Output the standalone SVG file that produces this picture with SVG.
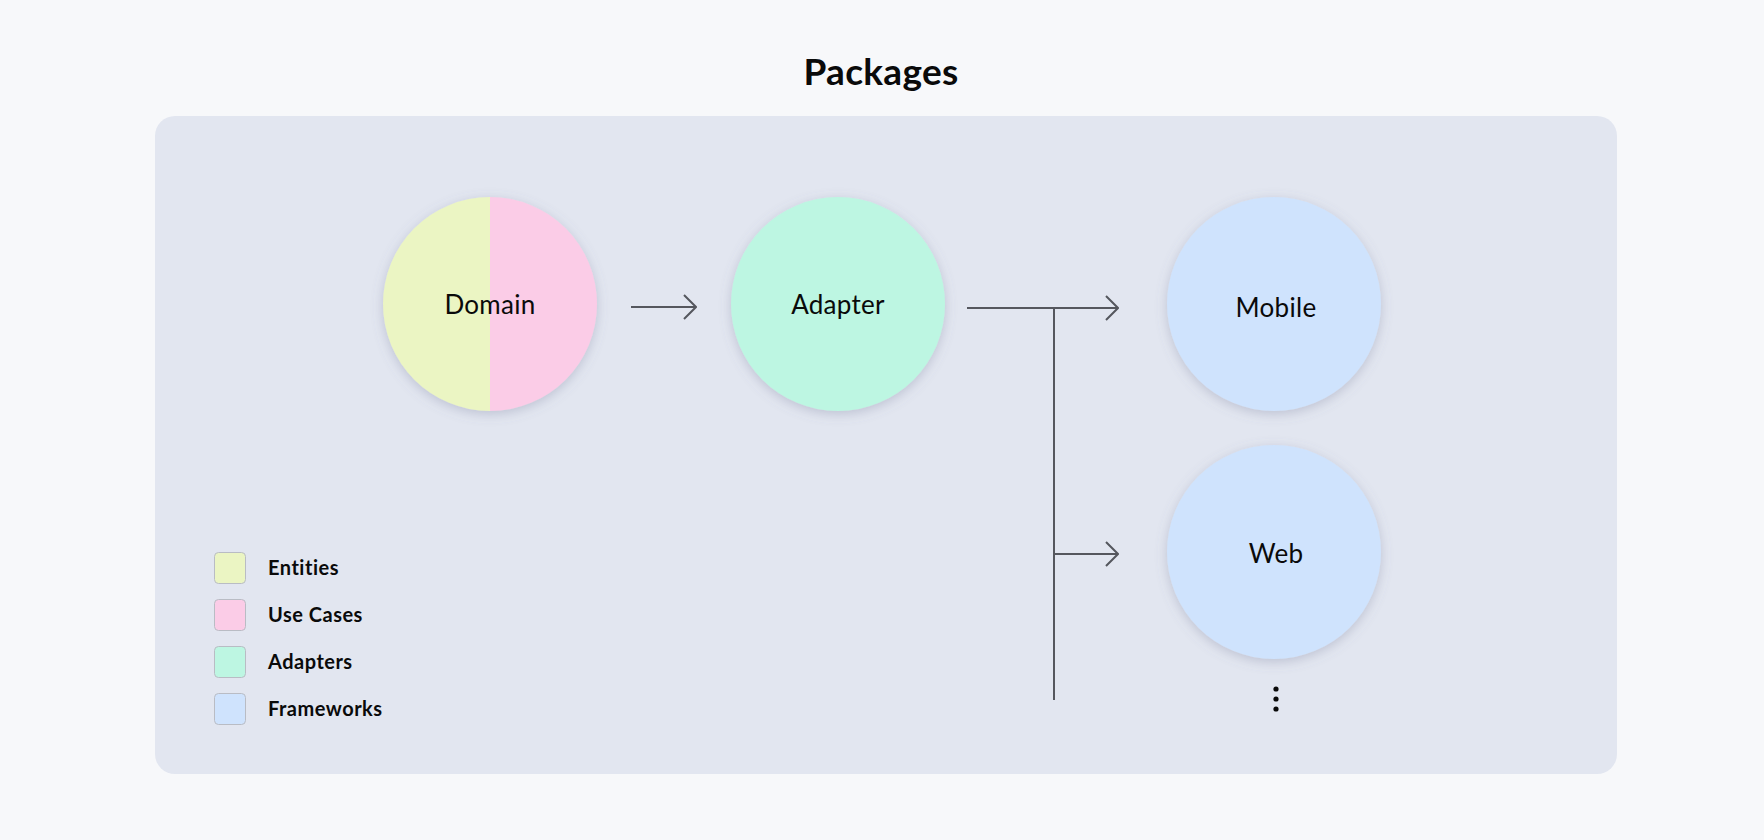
<svg xmlns="http://www.w3.org/2000/svg" width="1764" height="840" viewBox="0 0 1764 840">
<defs>
<style>
.title{font-family:Lato,"Noto Sans",sans-serif;font-size:37px;font-weight:700;fill:#0a0a0a;letter-spacing:0.3px}
.node{font-family:Lato,"Noto Sans",sans-serif;font-size:26px;fill:#0a0a0a;letter-spacing:0.3px}
.leg{font-family:Lato,"Noto Sans",sans-serif;font-size:20px;font-weight:700;fill:#0a0a0a;letter-spacing:0.5px}
.sw{stroke:#b9bcc4;stroke-width:1}
.conn{stroke:#55575e;stroke-width:2;fill:none}
</style>
<filter id="sh" x="-30%" y="-30%" width="160%" height="160%">
<feDropShadow dx="0" dy="3" stdDeviation="6" flood-color="#6a7090" flood-opacity="0.3"/>
</filter>
<marker id="arr" viewBox="0 0 14 28" refX="13" refY="14" markerWidth="14" markerHeight="28" markerUnits="userSpaceOnUse" orient="auto">
<path d="M1,2 L13,14 L1,26" fill="none" stroke="#55575e" stroke-width="2"/>
</marker>
</defs>
<rect width="1764" height="840" fill="#f7f8fa"/>
<text class="title" x="881" y="85" text-anchor="middle">Packages</text>
<rect x="155" y="116" width="1462" height="658" rx="20" fill="#e2e6f0"/>
<g id="domain">
<g filter="url(#sh)">
<path d="M490,197 A107,107 0 0 0 490,411 Z" fill="#ebf5c3"/>
<path d="M490,197 A107,107 0 0 1 490,411 Z" fill="#fbcce7"/>
</g>
<text class="node" x="490" y="314" text-anchor="middle">Domain</text>
</g>
<g id="adapter">
<circle cx="838" cy="304" r="107" fill="#bdf6e2" filter="url(#sh)"/>
<text class="node" x="838" y="314" text-anchor="middle">Adapter</text>
</g>
<g id="mobile">
<circle cx="1274" cy="304" r="107" fill="#cfe3fd" filter="url(#sh)"/>
<text class="node" x="1276" y="317" text-anchor="middle">Mobile</text>
</g>
<g id="web">
<circle cx="1274" cy="552" r="107" fill="#cfe3fd" filter="url(#sh)"/>
<text class="node" x="1276" y="563" text-anchor="middle">Web</text>
</g>
<g id="more">
<circle cx="1276" cy="689" r="2.6" fill="#0a0a0a"/>
<circle cx="1276" cy="699" r="2.6" fill="#0a0a0a"/>
<circle cx="1276" cy="709" r="2.6" fill="#0a0a0a"/>
</g>
<g id="connectors">
<line class="conn" x1="631" y1="307" x2="696" y2="307" marker-end="url(#arr)"/>
<line class="conn" x1="967" y1="308" x2="1118" y2="308" marker-end="url(#arr)"/>
<line class="conn" x1="1054" y1="308" x2="1054" y2="700"/>
<line class="conn" x1="1054" y1="554" x2="1118" y2="554" marker-end="url(#arr)"/>
</g>
<g id="legend">
<rect class="sw" x="214.5" y="552.5" width="31" height="31" rx="4" fill="#ebf5c3"/>
<text class="leg" x="268" y="575">Entities</text>
<rect class="sw" x="214.5" y="599.5" width="31" height="31" rx="4" fill="#fbcce7"/>
<text class="leg" x="268" y="622">Use Cases</text>
<rect class="sw" x="214.5" y="646.5" width="31" height="31" rx="4" fill="#bdf6e2"/>
<text class="leg" x="268" y="669">Adapters</text>
<rect class="sw" x="214.5" y="693.5" width="31" height="31" rx="4" fill="#cfe3fd"/>
<text class="leg" x="268" y="716">Frameworks</text>
</g>
</svg>
